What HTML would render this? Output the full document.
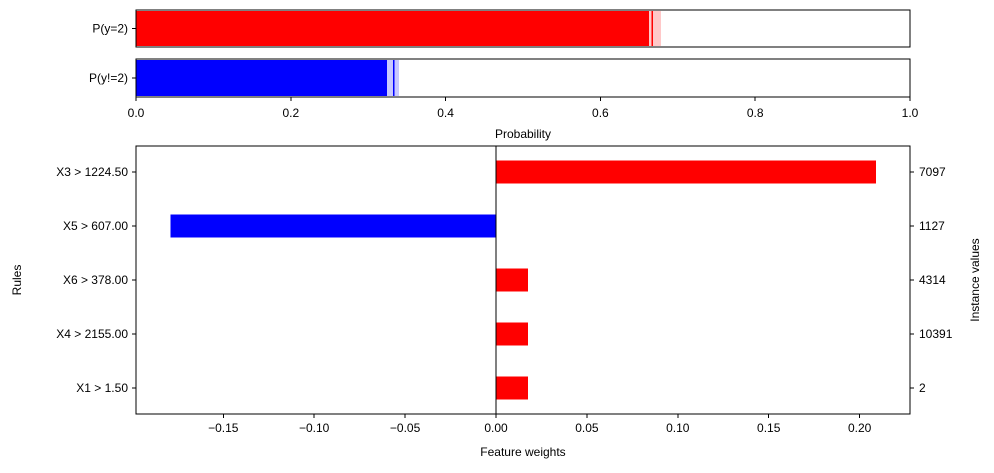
<!DOCTYPE html>
<html><head><meta charset="utf-8"><style>
body{margin:0;background:#fff;font-family:"Liberation Sans","DejaVu Sans",sans-serif}
svg text{font-size:12px;fill:#000}
</style></head><body>
<svg id="c" width="994" height="468" xmlns="http://www.w3.org/2000/svg" shape-rendering="crispEdges"></svg>
<script>
const probLabels=["P(y=2)","P(y!=2)"];
const probValues=[0.667,0.333];
const probLow=[0.663,0.324];
const probHigh=[0.678,0.340];
const probTicks=[0,0.2,0.4,0.6,0.8,1.0];
const rules=["X3 > 1224.50","X5 > 607.00","X6 > 378.00","X4 > 2155.00","X1 > 1.50"];
const weights=[0.209,-0.179,0.0177,0.0177,0.0177];
const instanceValues=["7097","1127","4314","10391","2"];
const weightTicks=[-0.15,-0.10,-0.05,0.00,0.05,0.10,0.15,0.20];
const NS="http://www.w3.org/2000/svg";
const svg=document.getElementById('c');
function mk(t,a,txt){const e=document.createElementNS(NS,t);for(const k in a)e.setAttribute(k,a[k]);if(txt!==undefined)e.textContent=txt;svg.appendChild(e);return e;}
const L=136,R=910;
const px=v=>L+v*(R-L);
const probRows=[[10,47],[59,97]];
const probColors=[["#ff0000","#ffc8c8"],["#0000ff","#c8c8ff"]];
probLabels.forEach((lab,i)=>{
  const [t,b]=probRows[i];
  let e=mk('rect',{x:px(0),y:t+1,width:px(probHigh[i])-px(0),height:b-t-2,fill:probColors[i][1]});
  
  e=mk('rect',{x:px(0),y:t+1,width:px(probLow[i])-px(0),height:b-t-2,fill:probColors[i][0]});
  
  e=mk('line',{x1:px(probValues[i]),x2:px(probValues[i]),y1:t+1,y2:b-1,stroke:probColors[i][0],'stroke-width':1.5});
  
  e=mk('rect',{x:L,y:t,width:R-L,height:b-t,fill:'none',stroke:'#000','stroke-width':1});
  
  mk('line',{x1:L-4,x2:L,y1:(t+b)/2,y2:(t+b)/2,stroke:'#000'});
  e=mk('text',{x:L-8,y:(t+b)/2+4,'text-anchor':'end'},lab);
  
});
probTicks.forEach(v=>{
  mk('line',{x1:px(v),x2:px(v),y1:97,y2:101,stroke:'#000'});
  const e=mk('text',{x:px(v),y:117,'text-anchor':'middle'},v.toFixed(1));
  
});
let e=mk('text',{x:523,y:138,'text-anchor':'middle'},'Probability');

const T=146,B=414,xmin=-0.198,xmax=0.2277;
const wx=v=>L+(v-xmin)/(xmax-xmin)*(R-L);
const rowY=i=>172+i*54;
rules.forEach((r,i)=>{
  const w=weights[i],y=rowY(i);
  const x0=Math.min(wx(0),wx(w)),x1=Math.max(wx(0),wx(w));
  let e=mk('rect',{x:x0,y:y-11.5,width:x1-x0,height:23,fill:w<0?'#0000ff':'#ff0000'});
  
  mk('line',{x1:L-4,x2:L,y1:y,y2:y,stroke:'#000'});
  mk('line',{x1:R,x2:R+4,y1:y,y2:y,stroke:'#000'});
  e=mk('text',{x:L-8,y:y+4,'text-anchor':'end'},r);
  
  e=mk('text',{x:R+9,y:y+4},instanceValues[i]);
  
});
e=mk('line',{x1:wx(0),x2:wx(0),y1:T,y2:B,stroke:'#000','stroke-width':1.2});

e=mk('rect',{x:L,y:T,width:R-L,height:B-T,fill:'none',stroke:'#000'});

weightTicks.forEach(v=>{
  mk('line',{x1:wx(v),x2:wx(v),y1:B,y2:B+4,stroke:'#000'});
  const s=(v<0?'\u2212':'')+Math.abs(v).toFixed(2);
  const e=mk('text',{x:wx(v),y:B+18,'text-anchor':'middle'},s);
  
});
e=mk('text',{x:523,y:456,'text-anchor':'middle'},'Feature weights');

e=mk('text',{x:21,y:280,'text-anchor':'middle',transform:'rotate(-90 21 280)'},'Rules');

e=mk('text',{x:979,y:280,'text-anchor':'middle',transform:'rotate(-90 979 280)'},'Instance values');

</script>
</body></html>
